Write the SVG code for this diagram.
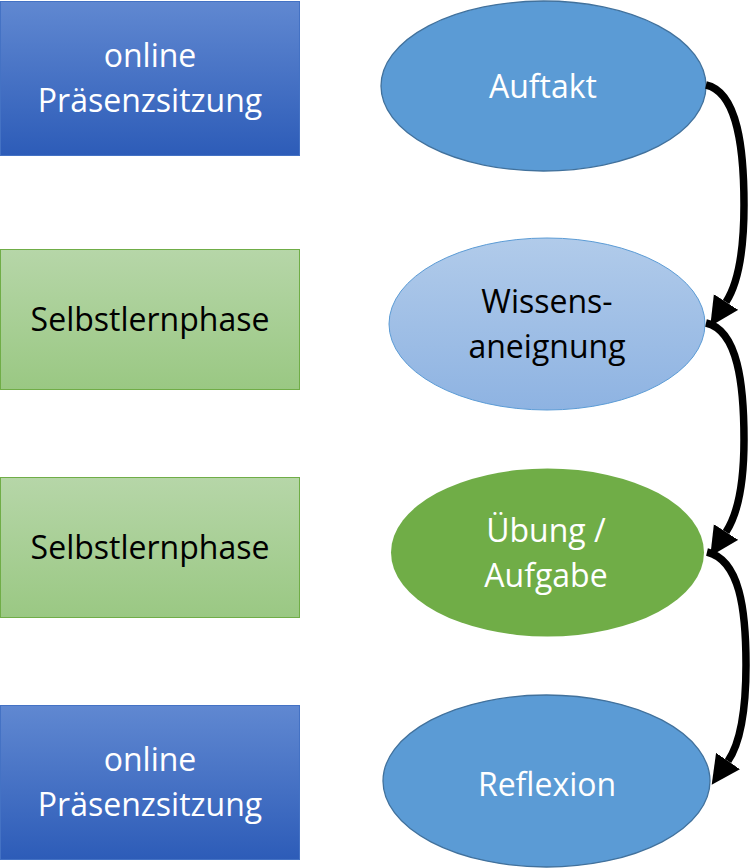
<svg xmlns="http://www.w3.org/2000/svg" width="751" height="868" viewBox="0 0 751 868">
<defs>
<linearGradient id="gBlue" x1="0" y1="0" x2="0" y2="1"><stop offset="0" stop-color="#6088D1"/><stop offset="1" stop-color="#2D5CB8"/></linearGradient>
<linearGradient id="gGreen" x1="0" y1="0" x2="0" y2="1"><stop offset="0" stop-color="#B6D6A8"/><stop offset="1" stop-color="#9AC883"/></linearGradient>
<linearGradient id="gLight" x1="0" y1="0" x2="0" y2="1"><stop offset="0" stop-color="#B1CBEA"/><stop offset="1" stop-color="#8EB3E2"/></linearGradient>
<marker id="ah" markerUnits="userSpaceOnUse" markerWidth="30" markerHeight="30" refX="0" refY="13" orient="auto" viewBox="0 0 27 26"><path d="M0,0 L26,13 L0,26 Z" fill="#000"/></marker>
</defs>
<style>
.t{font-family:"Open Sans","Liberation Sans",sans-serif;font-size:32px;text-anchor:middle}
.w{fill:#fff}
.k{fill:#000}
.bb{fill:url(#gBlue);stroke:#4472C4;stroke-width:1}
.gb{fill:url(#gGreen);stroke:#70AD47;stroke-width:1}
.eb{fill:#5B9BD5;stroke:#41719C;stroke-width:1.3}
.el{fill:url(#gLight);stroke:#5B9BD5;stroke-width:1}
.eg{fill:#70AD47}
.c{fill:none;stroke:#000;stroke-width:7.5;marker-end:url(#ah)}
</style>
<g id="box1"><rect class="bb" x="0.5" y="1.5" width="299" height="154"/><text class="t w" x="150" y="67">online</text><text class="t w" x="150" y="112">Präsenzsitzung</text></g>
<g id="box2"><rect class="gb" x="0.5" y="249.5" width="299" height="140"/><text class="t k" x="150" y="331">Selbstlernphase</text></g>
<g id="box3"><rect class="gb" x="0.5" y="477.5" width="299" height="140"/><text class="t k" x="150" y="559">Selbstlernphase</text></g>
<g id="box4"><rect class="bb" x="0.5" y="705.5" width="299" height="154"/><text class="t w" x="150" y="771">online</text><text class="t w" x="150" y="816">Präsenzsitzung</text></g>
<g id="n1"><ellipse class="eb" cx="543.5" cy="86" rx="162.5" ry="85"/><text class="t w" x="543" y="98">Auftakt</text></g>
<g id="n2"><ellipse class="el" cx="547" cy="324" rx="158" ry="86"/><text class="t k" x="547" y="313">Wissens-</text><text class="t k" x="547" y="358">aneignung</text></g>
<g id="n3"><ellipse class="eg" cx="547.5" cy="552.5" rx="156.5" ry="84"/><text class="t w" x="546" y="542">Übung /</text><text class="t w" x="546" y="587">Aufgabe</text></g>
<g id="n4"><ellipse class="eb" cx="546.5" cy="781" rx="163.5" ry="86"/><text class="t w" x="547" y="796">Reflexion</text></g>
<g id="connectors">
<path class="c" d="M706,85 C738,92 744,150 744,205 C744,250 739,282 726,302"/>
<path class="c" d="M706,323 C738,330 744,385 744,440 C744,482 739,512 726,532"/>
<path class="c" d="M707,552 C740,560 746,610 746,665 C746,710 741,742 728,761"/>
</g>
</svg>
